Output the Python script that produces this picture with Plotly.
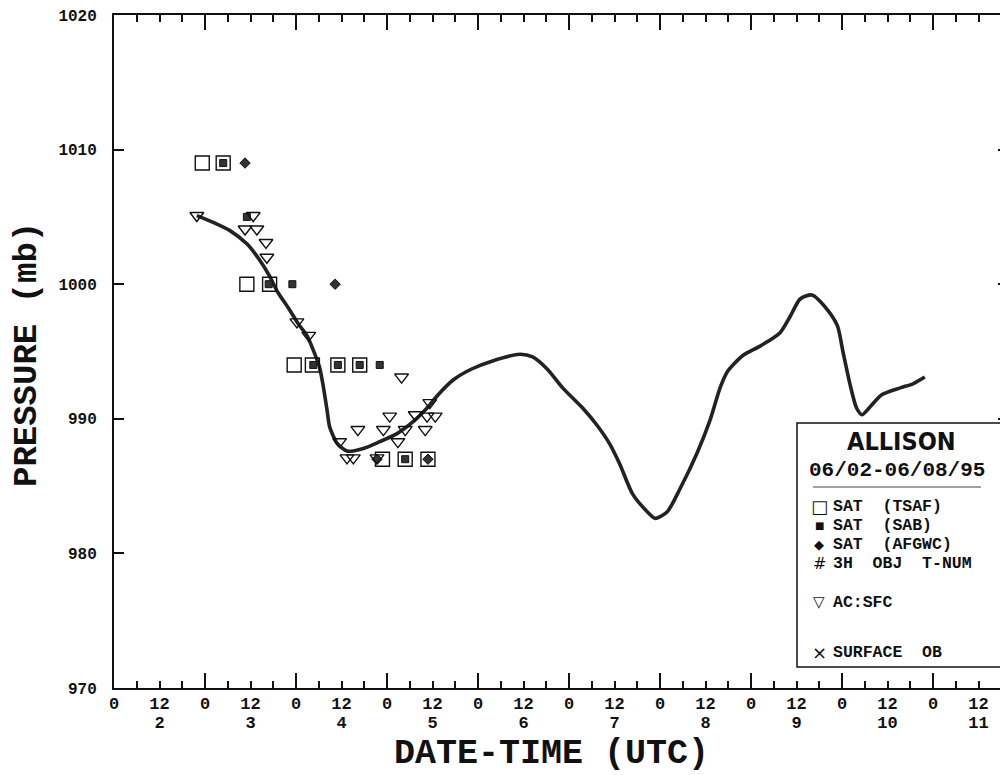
import plotly.graph_objects as go

# ---------------- data ----------------
# time axis in days of June 1995 (2.0 = 2 June 00 UTC)
track_t = [2.91, 3.09, 3.27, 3.46, 3.60, 3.71, 3.80, 3.92, 4.03, 4.12, 4.19, 4.26, 4.30, 4.34,
           4.37, 4.45, 4.56, 4.74, 4.92, 5.11, 5.29, 5.44, 5.55, 5.73, 5.93, 6.16, 6.46, 6.60,
           6.76, 6.93, 7.15, 7.31, 7.45, 7.56, 7.70, 7.86, 7.95, 8.08, 8.22, 8.41, 8.55, 8.66,
           8.74, 8.91, 9.10, 9.32, 9.43, 9.54, 9.67, 9.84, 9.95, 10.01, 10.09, 10.16, 10.22,
           10.31, 10.44, 10.64, 10.78, 10.91]
track_p = [1005.1, 1004.6, 1004.0, 1003.0, 1001.8, 1000.6, 999.4, 998.2, 997.0, 996.2, 995.1,
           993.8, 992.4, 990.7, 989.4, 988.2, 987.6, 987.8, 988.3, 988.9, 989.8, 990.8, 991.7,
           992.9, 993.7, 994.3, 994.8, 994.6, 993.7, 992.3, 990.8, 989.5, 988.1, 986.6, 984.4,
           983.1, 982.6, 983.1, 984.8, 987.5, 989.9, 992.3, 993.5, 994.7, 995.4, 996.4, 997.6,
           998.9, 999.2, 998.1, 996.9, 995.0, 992.5, 990.8, 990.3, 990.9, 991.8, 992.3, 992.6,
           993.1]

tsaf_t = [2.97, 3.20, 3.46, 3.71, 3.98, 4.18, 4.46, 4.70, 4.95, 5.20, 5.45]
tsaf_p = [1009, 1009, 1000, 1000, 994, 994, 994, 994, 987, 987, 987]

sab_t = [3.20, 3.46, 3.70, 3.96, 4.19, 4.46, 4.70, 4.92, 5.20]
sab_p = [1009, 1005, 1000, 1000, 994, 994, 994, 994, 987]

afgwc_t = [3.44, 4.43, 4.89, 5.45]
afgwc_p = [1009, 1000, 987, 987]

acsfc_t = [2.91, 3.44, 3.53, 3.57, 3.67, 3.68, 4.01, 4.14, 4.48, 4.56, 4.63, 4.68, 4.89,
           4.96, 5.03, 5.12, 5.16, 5.20, 5.31, 5.42, 5.44, 5.47, 5.53]
acsfc_p = [1005.1, 1004.1, 1005.1, 1004.1, 1003.1, 1002.0, 997.2, 996.2, 988.3, 987.1, 987.1,
           989.2, 987.1, 989.2, 990.2, 988.3, 993.1, 989.2, 990.3, 989.2, 990.2, 991.2, 990.2]

day_numbers = [2, 3, 4, 5, 6, 7, 8, 9, 10, 11]
hour_labels = ["0", "12"]
y_ticks = [970, 980, 990, 1000, 1010, 1020]

storm_name = "ALLISON"
storm_dates = "06/02-06/08/95"
legend_labels = ["SAT\u00a0\u00a0(TSAF)", "SAT\u00a0\u00a0(SAB)", "SAT\u00a0\u00a0(AFGWC)",
                 "3H\u00a0\u00a0OBJ\u00a0\u00a0T-NUM", "AC:SFC", "SURFACE\u00a0\u00a0OB"]
legend_glyphs = ["\u25a1", "\u25a0", "\u25c6", "#", "\u25bd", "\u00d7"]

# ---------------- layout geometry ----------------
# the page has an 8px body margin, so figure coords = page coords - 8
OFF = 8
W, H = 1000, 767
L, R, T, B = 106, 1000, 7, 680          # plot area in figure pixels
X_RANGE = [2, 2 + (R - L) / 91.0]

def px(x_page):
    return (x_page - OFF - L) / (R - L)

def py(y_page):
    return (B - (y_page - OFF)) / (B - T)

MONO = "Liberation Mono, Courier New, DejaVu Sans Mono, monospace"
INK = "#111111"

fig = go.Figure()

fig.add_trace(go.Scatter(x=track_t, y=track_p, mode="lines",
                         line=dict(color="#222222", width=3.6, shape="spline", smoothing=0.7),
                         hoverinfo="skip"))
fig.add_trace(go.Scatter(x=tsaf_t, y=tsaf_p, mode="markers",
                         marker=dict(symbol="square-open", size=14, color=INK,
                                     line=dict(width=1.4, color=INK)), hoverinfo="skip"))
fig.add_trace(go.Scatter(x=sab_t, y=sab_p, mode="markers",
                         marker=dict(symbol="square", size=7, color="#333333",
                                     line=dict(width=1, color=INK)), hoverinfo="skip"))
fig.add_trace(go.Scatter(x=afgwc_t, y=afgwc_p, mode="markers",
                         marker=dict(symbol="diamond", size=8, color="#333333",
                                     line=dict(width=1, color=INK)), hoverinfo="skip"))
fig.add_trace(go.Scatter(x=acsfc_t, y=acsfc_p, mode="markers",
                         marker=dict(symbol="triangle-down-open", size=12, color=INK,
                                     line=dict(width=1.4, color=INK)), hoverinfo="skip"))

# dummy traces so the label-only overlay axes are drawn
fig.add_trace(go.Scatter(x=[None], y=[None], xaxis="x2", yaxis="y", hoverinfo="skip"))
fig.add_trace(go.Scatter(x=[None], y=[None], xaxis="x3", yaxis="y", hoverinfo="skip"))

half_vals, half_text = [], []
for d in day_numbers:
    half_vals += [d, d + 0.5]
    half_text += hour_labels
day_vals = [d + 0.5 for d in day_numbers]
day_text = [str(d) for d in day_numbers]

tickfont = dict(family=MONO, size=17, color=INK, weight="bold")

fig.update_layout(
    width=W, height=H,
    margin=dict(l=L, r=W - R, t=T, b=H - B, pad=0, autoexpand=False),
    paper_bgcolor="white", plot_bgcolor="white",
    showlegend=False,
    xaxis=dict(range=X_RANGE, showline=True, linecolor=INK, linewidth=2, mirror="ticks",
               ticks="inside", tickmode="linear", tick0=2, dtick=1, ticklen=15, tickwidth=1.5,
               tickcolor=INK, showticklabels=False, showgrid=False, zeroline=False,
               minor=dict(ticks="inside", ticklen=7, tickwidth=1.5, tickcolor=INK,
                          tick0=2, dtick=0.25, showgrid=False)),
    xaxis2=dict(range=X_RANGE, overlaying="x", anchor="y", side="bottom", showline=False,
                ticks="", tickmode="array", tickvals=half_vals, ticktext=half_text,
                tickfont=tickfont, showgrid=False, zeroline=False, ticklabelstandoff=3,
                ticklabeloverflow="allow"),
    xaxis3=dict(range=X_RANGE, overlaying="x", anchor="y", side="bottom", showline=False,
                ticks="", tickmode="array", tickvals=day_vals, ticktext=day_text,
                tickfont=tickfont, showgrid=False, zeroline=False, ticklabelstandoff=22,
                ticklabeloverflow="allow"),
    yaxis=dict(range=[970, 1020], tickmode="array", tickvals=y_ticks,
               ticks="inside", ticklen=10, tickwidth=1.5, tickcolor=INK,
               showline=True, linecolor=INK, linewidth=2, mirror="ticks",
               tickfont=dict(family=MONO, size=16, color=INK, weight="bold"),
               ticklabelstandoff=12, showgrid=False, zeroline=False,
               ticklabeloverflow="allow"),
)

# axis titles
fig.add_annotation(text="DATE-TIME\u00a0(UTC)", xref="paper", yref="paper",
                   x=px(551), y=py(754), showarrow=False, xanchor="center", yanchor="middle",
                   font=dict(family=MONO, size=35, color=INK, weight="bold"))
fig.add_annotation(text="PRESSURE\u00a0(mb)", xref="paper", yref="paper",
                   x=px(27), y=py(355), showarrow=False, xanchor="center", yanchor="middle",
                   textangle=-90,
                   font=dict(family=MONO, size=34, color=INK, weight="bold"))

# legend box
fig.add_shape(type="rect", xref="paper", yref="paper",
              x0=px(797), x1=px(1002), y0=py(667), y1=py(423),
              line=dict(color=INK, width=1.5), fillcolor="white", layer="above")
fig.add_shape(type="line", xref="paper", yref="paper",
              x0=px(813), x1=px(981), y0=py(487), y1=py(487),
              line=dict(color="#444444", width=1.2), layer="above")
fig.add_annotation(text=storm_name, xref="paper", yref="paper", x=px(901), y=py(441),
                   showarrow=False, xanchor="center", yanchor="middle",
                   font=dict(family="Liberation Sans Narrow, DejaVu Sans Condensed, Roboto Condensed, sans-serif",
                             size=25, color=INK, weight="bold"))
fig.add_annotation(text=storm_dates, xref="paper", yref="paper", x=px(897), y=py(470),
                   showarrow=False, xanchor="center", yanchor="middle",
                   font=dict(family=MONO, size=21, color=INK, weight="bold"))

entry_y = [506, 525, 544, 563, 602, 652]
glyph_sizes = [18, 10, 13, 16, 15, 18]
for lab, gl, gs, yy in zip(legend_labels, legend_glyphs, glyph_sizes, entry_y):
    fig.add_annotation(text=gl, xref="paper", yref="paper", x=px(819), y=py(yy),
                       showarrow=False, xanchor="center", yanchor="middle",
                       font=dict(family="DejaVu Sans, sans-serif", size=gs, color=INK))
    fig.add_annotation(text=lab, xref="paper", yref="paper", x=px(831), y=py(yy),
                       showarrow=False, xanchor="left", yanchor="middle",
                       font=dict(family=MONO, size=16.5, color=INK, weight="bold"))

fig.write_html("out.html")
